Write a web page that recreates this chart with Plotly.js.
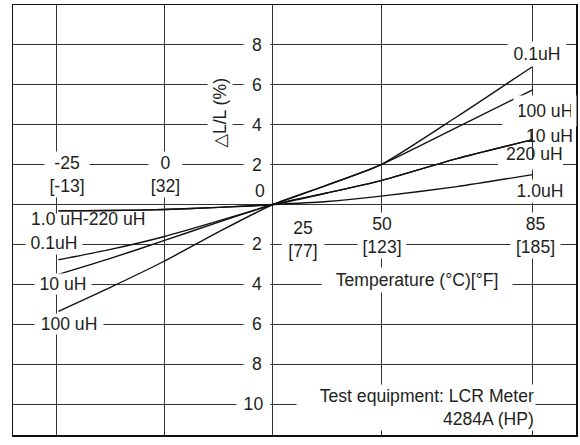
<!DOCTYPE html>
<html>
<head>
<meta charset="utf-8">
<script src="https://cdn.plot.ly/plotly-3.0.1.min.js"></script>
<style>html,body{margin:0;padding:0;background:#fff;}#chart{width:580px;height:445px;}</style>
</head>
<body>
<div id="chart"></div>
<script>
// Temperature (°C) sample points
const tempC = [-24.5, -12.5, 0, 12.5, 25, 37.5, 50, 67.5, 85];
// ΔL/L (%) per inductance value
const uH0_1 = [-2.77, -2.25, -1.6, -0.82, 0, 0.97, 2.0, 4.4, 6.92];
const uH1_0 = [-0.32, -0.3, -0.25, -0.14, 0, 0.15, 0.42, 0.9, 1.5];
const uH10  = [-3.5, -2.7, -1.8, -0.88, 0, 0.58, 1.2, 2.3, 3.25];
const uH100 = [-5.35, -4.15, -2.83, -1.37, 0, 0.97, 2.0, 3.87, 5.75];
const uH220 = [-0.32, -0.3, -0.25, -0.14, 0, 0.58, 1.2, 2.3, 3.25];
const seriesNames = ['0.1uH', '1.0uH', '10 uH', '100 uH', '220 uH'];
const seriesValues = [uH0_1, uH1_0, uH10, uH100, uH220];

// Axis ticks
const xTickVals = [-25, 0, 25, 50, 85];
const xTickC = ['-25', '0', '25', '50', '85'];
const xTickF = ['[-13]', '[32]', '[77]', '[123]', '[185]'];
const yTickVals = [-10, -8, -6, -4, -2, 0, 2, 4, 6, 8];
const yTickText = ['10', '8', '6', '4', '2', '0', '2', '4', '6', '8'];

const FONT = 'Liberation Sans, Arial, Helvetica, DejaVu Sans, sans-serif';
const FS = 17.6;
const TXT = '#231f20';

const traces = seriesNames.map((n, i) => ({
  x: tempC, y: seriesValues[i], name: n, type: 'scatter', mode: 'lines',
  line: {color: '#111', width: 1.4, shape: 'spline', smoothing: 0.6},
  hoverinfo: 'skip'
}));

const ann = [];
function A(o) {
  ann.push(Object.assign({xref: 'x', yref: 'y', showarrow: false,
    font: {family: FONT, size: FS, color: TXT}, borderpad: 1}, o));
}
// y tick labels beside the axis at 25 °C
yTickVals.forEach((v, i) => {
  if (v === 0) {
    A({x: 25, y: 0.7, text: yTickText[i], xanchor: 'center', xshift: -13});
  } else {
    const w = yTickText[i].length > 1 ? 29 : 22;
    A({x: 25, y: v, text: yTickText[i], xanchor: 'right', xshift: -2,
       width: w, bgcolor: '#fff', borderpad: 2});
  }
});
// x tick labels (°C over °F)
const xLab = [
  {xs: 11, y: 1.5, w: 42},
  {xs: 1, y: 1.5, w: 31},
  {xs: 30, y: -1.75, w: 40},
  {xs: 1, y: -1.55, w: 46},
  {xs: 3, y: -1.55, w: 47}
];
xTickVals.forEach((v, i) => {
  A({x: v, y: xLab[i].y, text: xTickC[i] + '<br>' + xTickF[i], xshift: xLab[i].xs,
     width: xLab[i].w, bgcolor: '#fff', borderpad: 1});
});
// axis titles
A({x: 25, y: 4.6, xshift: -53, text: '△L/L (%)', textangle: -90, bgcolor: '#fff', borderpad: 2});
A({x: 50, y: -3.78, xshift: 36, text: 'Temperature (°C)[°F]', width: 186, bgcolor: '#fff', borderpad: 2});
// curve labels, right side
A({x: 85, y: 7.55, xshift: 4, text: '0.1uH', width: 54, bgcolor: '#fff', borderpad: 2});
A({x: 85, y: 4.7, xshift: 12, text: '100 uH', width: 52, bgcolor: '#fff', borderpad: 5});
A({x: 85, y: 3.45, xshift: 17, text: '10 uH'});
A({x: 85, y: 2.55, xshift: 2, text: '220 uH'});
A({x: 85, y: 0.7, xshift: 7, text: '1.0uH', width: 52, bgcolor: '#fff', borderpad: 1});
// curve labels, left side
A({x: -25, y: -0.7, xshift: 32, text: '1.0 uH-220 uH'});
A({x: -25, y: -1.95, xshift: -2, text: '0.1uH', width: 54, bgcolor: '#fff', borderpad: 1});
A({x: -25, y: -4.0, xshift: 7, text: '10 uH', width: 56, bgcolor: '#fff', borderpad: 0});
A({x: -25, y: -6.0, xshift: 13, text: '100 uH', width: 68, bgcolor: '#fff', borderpad: 0});
// test equipment note
A({x: 58, y: -10.18, text: 'Test equipment: LCR Meter<br>4284A (HP)', align: 'right',
   width: 236, bgcolor: '#fff', borderpad: 1});

const shapes = [
  // gaps in grid lines behind labels drawn without a background
  {type: 'rect', layer: 'between', xref: 'x', yref: 'y', x0: 77, x1: 92, y0: 1.75, y1: 2.25,
   fillcolor: '#fff', line: {width: 0}},
  {type: 'rect', layer: 'between', xref: 'x', yref: 'y', x0: 78, x1: 95, y0: 3.8, y1: 4.3,
   fillcolor: '#fff', line: {width: 0}},
  {type: 'rect', layer: 'between', xref: 'x', yref: 'y', x0: -28, x1: -22, y0: -1.4, y1: -0.45,
   fillcolor: '#fff', line: {width: 0}}
];

const layout = {
  width: 580, height: 445,
  margin: {l: 13, r: 4, t: 5, b: 10, pad: 0},
  paper_bgcolor: '#fff', plot_bgcolor: '#fff',
  showlegend: false,
  font: {family: FONT, size: FS, color: TXT},
  xaxis: {range: [-35, 95], tickvals: xTickVals, showticklabels: false, ticks: '',
          showgrid: true, gridcolor: '#333', gridwidth: 1, zeroline: false,
          showline: true, mirror: true, linecolor: '#111', linewidth: 1.5, fixedrange: true},
  yaxis: {range: [-11.55, 10], tickvals: yTickVals, showticklabels: false, ticks: '',
          showgrid: true, gridcolor: '#333', gridwidth: 1, zeroline: false,
          showline: true, mirror: true, linecolor: '#111', linewidth: 1.5, fixedrange: true},
  annotations: ann,
  shapes: shapes
};

Plotly.newPlot('chart', traces, layout, {staticPlot: true, displayModeBar: false});
</script>
</body>
</html>
